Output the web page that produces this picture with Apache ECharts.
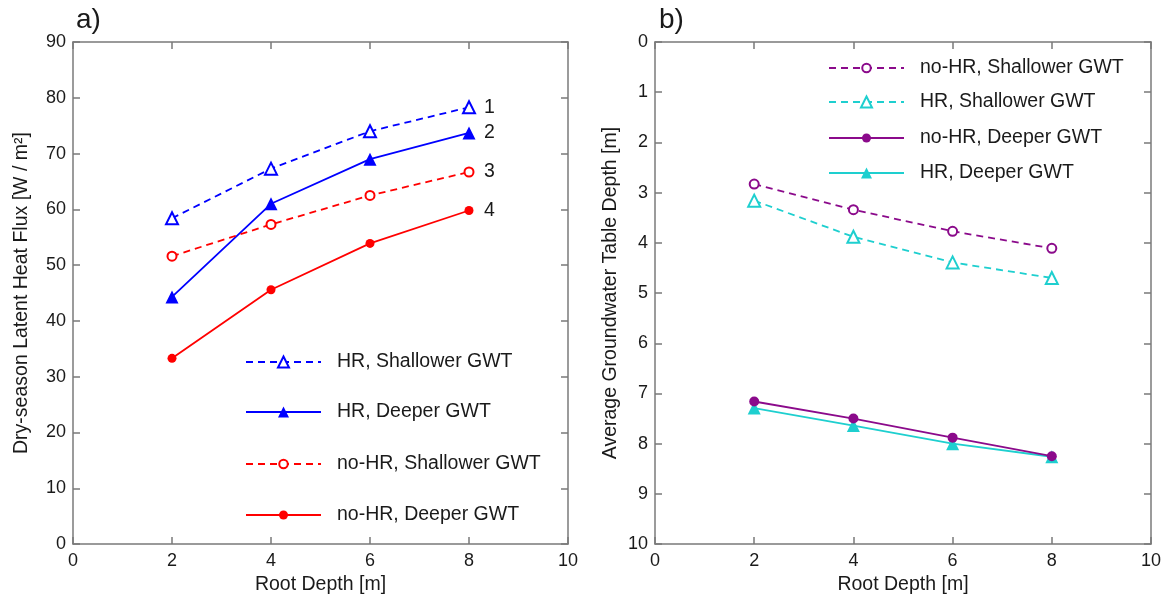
<!DOCTYPE html>
<html>
<head>
<meta charset="utf-8">
<script src="https://cdn.jsdelivr.net/npm/echarts@6/dist/echarts.min.js"></script>
<style>
  html, body { margin: 0; padding: 0; background: #fff; }
  #chart { width: 1167px; height: 600px; }
</style>
</head>
<body>
<div id="chart"></div>
<script>
// Root depth values (m) shared by both panels
const rootDepth = [2, 4, 6, 8];

// Panel a) dry-season latent heat flux (W / m²)
const fluxHRShallow = [58.4, 67.3, 74.0, 78.3];
const fluxHRDeep = [44.3, 61.0, 69.0, 73.7];
const fluxNoHRShallow = [51.6, 57.3, 62.5, 66.7];
const fluxNoHRDeep = [33.3, 45.6, 53.9, 59.8];
const curveTags = ['1', '2', '3', '4'];

// Panel b) average groundwater table depth (m)
const gwtNoHRShallow = [2.83, 3.34, 3.77, 4.11];
const gwtHRShallow = [3.16, 3.88, 4.39, 4.70];
const gwtNoHRDeep = [7.16, 7.50, 7.88, 8.25];
const gwtHRDeep = [7.29, 7.64, 8.00, 8.26];

const seriesNames = ['HR, Shallower GWT', 'HR, Deeper GWT', 'no-HR, Shallower GWT', 'no-HR, Deeper GWT'];
const panelBSuffix = ' \u200b';

const BLUE = '#0000ff', RED = '#ff0000', PURPLE = '#8b0a8b', CYAN = '#1ecfcf';
const TEXT = '#1a1a1a', FRAME = '#7a7a7a';
const FONT = '"Liberation Sans", Arial, sans-serif';
const TICK_FONT = 18, NAME_FONT = 19.5, LEGEND_FONT = 19.5;

const pairs = ys => rootDepth.map((x, i) => [x, ys[i]]);

function xAxisDef(gridIndex, top) {
  return {
    type: 'value', gridIndex, min: 0, max: 10, interval: 2,
    position: top ? 'top' : 'bottom',
    name: top ? '' : 'Root Depth [m]', nameLocation: 'middle', nameGap: 30,
    nameTextStyle: { fontFamily: FONT, fontSize: NAME_FONT, color: TEXT },
    axisLine: { show: true, onZero: false, lineStyle: { color: FRAME, width: 1.5 } },
    axisTick: { show: true, inside: true, length: 7, lineStyle: { color: FRAME, width: 1.5 } },
    axisLabel: { show: !top, fontFamily: FONT, fontSize: TICK_FONT, color: TEXT, margin: 8,
                 showMinLabel: true, showMaxLabel: true },
    splitLine: { show: false }
  };
}

function yAxisDef(gridIndex, right, opts) {
  return Object.assign({
    type: 'value', gridIndex,
    position: right ? 'right' : 'left',
    nameLocation: 'middle',
    nameTextStyle: { fontFamily: FONT, fontSize: NAME_FONT, color: TEXT },
    axisLine: { show: true, onZero: false, lineStyle: { color: FRAME, width: 1.5 } },
    axisTick: { show: true, inside: true, length: 7, lineStyle: { color: FRAME, width: 1.5 } },
    axisLabel: { show: !right, fontFamily: FONT, fontSize: TICK_FONT, color: TEXT, margin: 7 },
    splitLine: { show: false }
  }, opts);
}

function lineSeries(name, data, color, dashed, symbol, size, xi, yi, extra) {
  return Object.assign({
    type: 'line', name, data: pairs(data),
    xAxisIndex: xi, yAxisIndex: yi,
    symbol, symbolSize: size, showAllSymbol: true,
    lineStyle: { color, width: 1.8, type: dashed ? [7, 5] : 'solid' },
    itemStyle: { color, borderWidth: 1.5 },
    animation: false, z: 3
  }, extra || {});
}

function tagLabel(text) {
  return {
    endLabel: { show: true, formatter: text, distance: 15,
                fontFamily: FONT, fontSize: LEGEND_FONT, color: TEXT }
  };
}

// One legend entry per component so each marker keeps its own size
function legendEntry(name, left, centerY, markerSize, label) {
  return {
    data: [name],
    formatter: () => label,
    orient: 'vertical', left, top: centerY - 10, padding: 0,
    itemWidth: 75, itemHeight: markerSize / 0.8,
    textStyle: { fontFamily: FONT, fontSize: LEGEND_FONT, color: TEXT, lineHeight: 20, padding: [0, 0, 0, 11] },
    selectedMode: false
  };
}

const legends = [
  legendEntry(seriesNames[0], 245, 362, 11, seriesNames[0]),
  legendEntry(seriesNames[1], 245, 412, 11, seriesNames[1]),
  legendEntry(seriesNames[2], 245, 464, 8.5, seriesNames[2]),
  legendEntry(seriesNames[3], 245, 515, 9, seriesNames[3]),
  legendEntry(seriesNames[2] + panelBSuffix, 828, 68, 8.5, seriesNames[2]),
  legendEntry(seriesNames[0] + panelBSuffix, 828, 102, 11, seriesNames[0]),
  legendEntry(seriesNames[3] + panelBSuffix, 828, 138, 9, seriesNames[3]),
  legendEntry(seriesNames[1] + panelBSuffix, 828, 173, 11, seriesNames[1])
];

const chart = echarts.init(document.getElementById('chart'), null, { renderer: 'canvas' });

chart.setOption({
  backgroundColor: '#ffffff',
  animation: false,
  title: [
    { text: 'a)', left: 71, top: 1, textStyle: { fontFamily: FONT, fontSize: 28, fontWeight: 'normal', color: TEXT } },
    { text: 'b)', left: 654, top: 1, textStyle: { fontFamily: FONT, fontSize: 28, fontWeight: 'normal', color: TEXT } }
  ],
  grid: [
    { left: 73, top: 42, width: 495, height: 506 },
    { left: 655, top: 42, width: 496, height: 506 }
  ],
  xAxis: [xAxisDef(0, false), xAxisDef(0, true), xAxisDef(1, false), xAxisDef(1, true)],
  yAxis: [
    yAxisDef(0, false, { min: 0, max: 90, interval: 10, name: 'Dry-season Latent Heat Flux [W / m\u00b2]', nameGap: 41 }),
    yAxisDef(0, true, { min: 0, max: 90, interval: 10 }),
    yAxisDef(1, false, { min: 0, max: 10, interval: 1, inverse: true, name: 'Average Groundwater Table Depth [m]', nameGap: 34 }),
    yAxisDef(1, true, { min: 0, max: 10, interval: 1, inverse: true })
  ],
  legend: legends,
  series: [
    // Panel a)
    lineSeries(seriesNames[0], fluxHRShallow, BLUE, true, 'emptyTriangle', 12, 0, 0, tagLabel(curveTags[0])),
    lineSeries(seriesNames[1], fluxHRDeep, BLUE, false, 'triangle', 13, 0, 0, tagLabel(curveTags[1])),
    lineSeries(seriesNames[2], fluxNoHRShallow, RED, true, 'emptyCircle', 9, 0, 0, tagLabel(curveTags[2])),
    lineSeries(seriesNames[3], fluxNoHRDeep, RED, false, 'circle', 9, 0, 0, tagLabel(curveTags[3])),
    // Panel b)
    lineSeries(seriesNames[2] + panelBSuffix, gwtNoHRShallow, PURPLE, true, 'emptyCircle', 9, 2, 2),
    lineSeries(seriesNames[0] + panelBSuffix, gwtHRShallow, CYAN, true, 'emptyTriangle', 12, 2, 2),
    lineSeries(seriesNames[3] + panelBSuffix, gwtNoHRDeep, PURPLE, false, 'circle', 10, 2, 2, { z: 4 }),
    lineSeries(seriesNames[1] + panelBSuffix, gwtHRDeep, CYAN, false, 'triangle', 13, 2, 2)
  ]
});
</script>
</body>
</html>
